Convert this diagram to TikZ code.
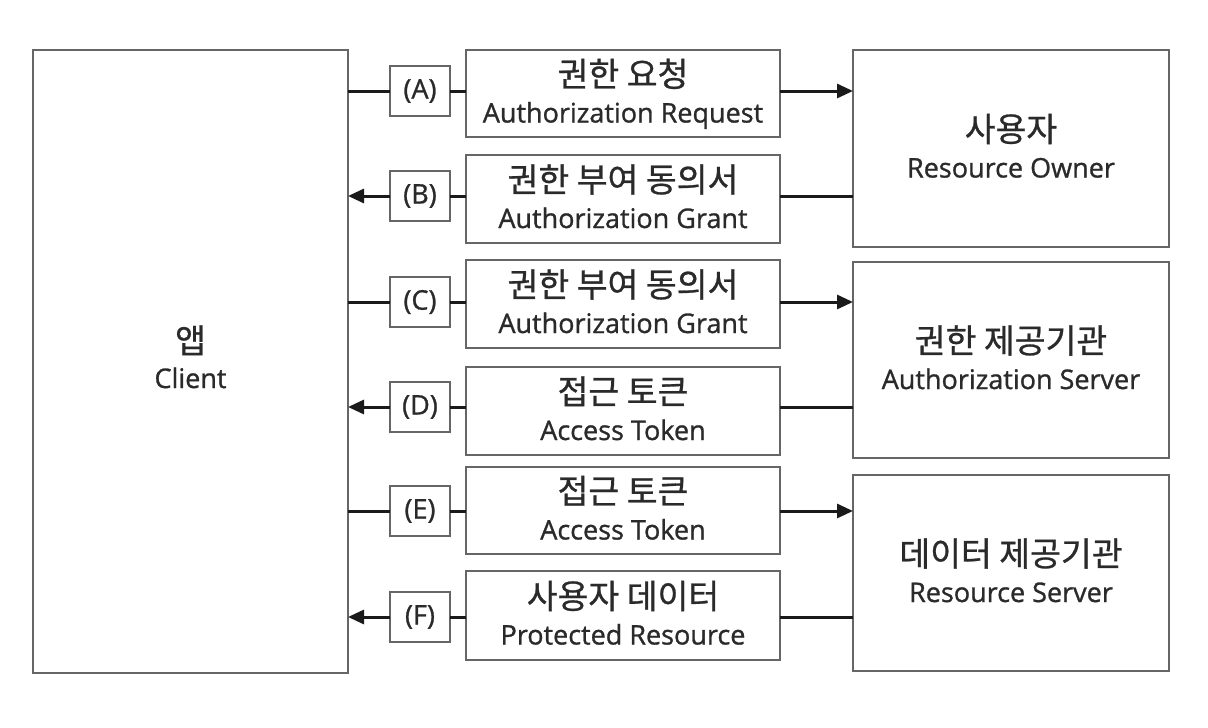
\documentclass[tikz,border=0pt]{standalone}
\usepackage{fontspec}
\setmainfont{Open Sans}[UprightFeatures={FakeBold=1}]
\newfontfamily\krfont{Noto Sans CJK KR}[UprightFeatures={FakeBold=0.8}]
\usetikzlibrary{arrows.meta}
\definecolor{boxgray}{HTML}{666666}
\definecolor{txt}{HTML}{2A2A2A}
\definecolor{conncol}{HTML}{1A1A1A}
\tikzset{
  box/.style={draw=boxgray, line width=2.2pt, inner sep=0pt, outer sep=0pt, fill=white},
  kt/.style={anchor=base, text=txt, font=\krfont\fontsize{33.5}{33.5}\selectfont, inner sep=0pt},
  et/.style={anchor=base, text=txt, font=\fontsize{27}{27}\selectfont, inner sep=0pt},
  lblbox/.style={box, minimum width=60pt, minimum height=50pt, text=txt, font=\fontsize{27}{27}\selectfont},
  msgbox/.style={box, minimum width=314pt},
  sidebox/.style={box, minimum width=316pt},
  conn/.style={draw=conncol, line width=3pt},
  arrowend/.style={-{Triangle[length=16pt,width=14pt]}}
}
\begin{document}
\begin{tikzpicture}[x=1pt,y=-1pt]
\useasboundingbox (0,0) rectangle (1208,728);
% client
\node[box, minimum width=315pt, minimum height=623pt] (client) at (190.5,361.5) {};
\node[kt] (clientk) at ([yshift=8.5pt]client.center) {앱};
\node[et] (cliente) at ([yshift=-26.5pt]client.center) {Client};
% right boxes
\node[sidebox, minimum height=197pt] (ro) at (1011,148.5) {};
\node[kt] (rok) at ([yshift=7pt]ro.center) {사용자};
\node[et] (roe) at ([yshift=-29pt]ro.center) {Resource Owner};
\node[sidebox, minimum height=196pt] (as) at (1011,360) {};
\node[kt] (ask) at ([yshift=7pt]as.center) {권한 제공기관};
\node[et] (ase) at ([yshift=-29pt]as.center) {Authorization Server};
\node[sidebox, minimum height=196pt] (rs) at (1011,573) {};
\node[kt] (rsk) at ([yshift=7pt]rs.center) {데이터 제공기관};
\node[et] (rse) at ([yshift=-29pt]rs.center) {Resource Server};
% message boxes
\node[msgbox, minimum height=87pt] (mA) at (623,93.5) {};
\node[kt] (mAk) at ([yshift=7pt]mA.center) {권한 요청};
\node[et] (mAe) at ([yshift=-29pt]mA.center) {Authorization Request};
\node[msgbox, minimum height=88pt] (mB) at (623,199) {};
\node[kt] (mBk) at ([yshift=7pt]mB.center) {권한 부여 동의서};
\node[et] (mBe) at ([yshift=-29pt]mB.center) {Authorization Grant};
\node[msgbox, minimum height=88pt] (mC) at (623,304) {};
\node[kt] (mCk) at ([yshift=7pt]mC.center) {권한 부여 동의서};
\node[et] (mCe) at ([yshift=-29pt]mC.center) {Authorization Grant};
\node[msgbox, minimum height=88pt] (mD) at (623,411) {};
\node[kt] (mDk) at ([yshift=7pt]mD.center) {접근 토큰};
\node[et] (mDe) at ([yshift=-29pt]mD.center) {Access Token};
\node[msgbox, minimum height=87pt] (mE) at (623,510.5) {};
\node[kt] (mEk) at ([yshift=7pt]mE.center) {접근 토큰};
\node[et] (mEe) at ([yshift=-29pt]mE.center) {Access Token};
\node[msgbox, minimum height=89pt] (mF) at (623,615.5) {};
\node[kt] (mFk) at ([yshift=7pt]mF.center) {사용자 데이터};
\node[et] (mFe) at ([yshift=-29pt]mF.center) {Protected Resource};
% label boxes
\node[lblbox] (lA) at (420,91) {(A)};
\node[lblbox] (lB) at (420,196) {(B)};
\node[lblbox] (lC) at (420,302) {(C)};
\node[lblbox] (lD) at (420,407) {(D)};
\node[lblbox] (lE) at (420,511) {(E)};
\node[lblbox] (lF) at (420,617) {(F)};
% connectors: client -> right side
\foreach \l/\m/\r in {A/mA/ro, C/mC/as, E/mE/rs}{
  \draw[conn] (client.east |- l\l) -- (l\l.west);
  \draw[conn] (l\l.east) -- (l\l.east -| \m.west);
  \draw[conn, arrowend] (l\l.east -| \m.east) -- (l\l.east -| \r.west);
}
% connectors: right side -> client
\foreach \l/\m/\r in {B/mB/ro, D/mD/as, F/mF/rs}{
  \draw[conn] (l\l.east -| \r.west) -- (l\l.east -| \m.east);
  \draw[conn] (\m.west |- l\l) -- (l\l.east);
  \draw[conn, arrowend] (l\l.west) -- (l\l.west -| client.east);
}
\end{tikzpicture}
\end{document}
